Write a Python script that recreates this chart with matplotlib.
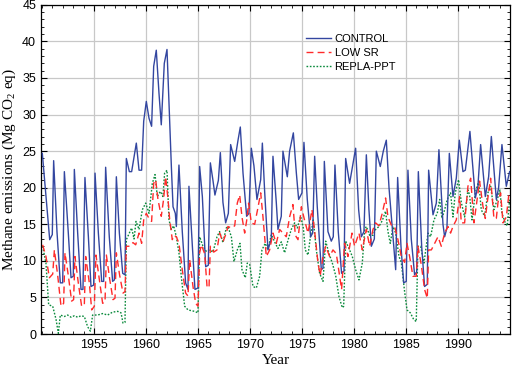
import matplotlib
matplotlib.use("Agg")
import matplotlib.pyplot as plt
from matplotlib.ticker import MultipleLocator

plt.rcParams['font.family'] = ['Liberation Sans', 'DejaVu Sans']
plt.rcParams['mathtext.default'] = 'regular'

# ---------------- data (year, Mg CO2 eq) ----------------
control_t = [1950.03, 1950.67, 1950.74, 1950.99, 1951.12, 1951.44, 1951.76, 1951.99, 1952.15, 1952.53,
             1952.79, 1953.01, 1953.11, 1953.43, 1953.75, 1953.94, 1954.13, 1954.46, 1954.71, 1954.97,
             1955.10, 1955.42, 1955.74, 1955.93, 1956.12, 1956.47, 1956.79, 1956.96, 1957.15, 1957.44,
             1957.76, 1957.98, 1958.11, 1958.40, 1958.62, 1959.07, 1959.33, 1959.58, 1959.78, 1960.03,
             1960.29, 1960.54, 1960.74, 1960.99, 1961.25, 1961.47, 1961.76, 1962.02, 1962.21, 1962.44,
             1962.60, 1962.82, 1962.92, 1963.17, 1963.49, 1963.81, 1964.04, 1964.13, 1964.46, 1964.71,
             1965.00, 1965.16, 1965.42, 1965.74, 1965.99, 1966.19, 1966.44, 1966.63, 1966.96, 1967.15,
             1967.40, 1967.66, 1967.92, 1968.14, 1968.53, 1968.85, 1969.07, 1969.33, 1969.58, 1969.68,
             1969.90, 1970.13, 1970.38, 1970.67, 1971.03, 1971.19, 1971.41, 1971.73, 1972.05, 1972.21,
             1972.53, 1972.69, 1973.01, 1973.17, 1973.59, 1973.81, 1974.17, 1974.46, 1974.68, 1975.00,
             1975.19, 1975.51, 1975.83, 1976.03, 1976.22, 1976.47, 1976.86, 1977.02, 1977.15, 1977.50,
             1977.82, 1978.01, 1978.17, 1978.49, 1978.81, 1979.04, 1979.20, 1979.58, 1980.16, 1980.45,
             1980.71, 1980.96, 1981.19, 1981.44, 1981.67, 1981.96, 1982.15, 1982.53, 1982.82, 1983.11,
             1983.37, 1983.59, 1984.01, 1984.20, 1984.52, 1984.78, 1985.03, 1985.19, 1985.51, 1985.83,
             1986.03, 1986.19, 1986.51, 1986.79, 1987.05, 1987.18, 1987.60, 1987.92, 1988.17, 1988.56,
             1988.72, 1988.94, 1989.17, 1989.52, 1989.84, 1990.13, 1990.48, 1990.71, 1991.15, 1991.67,
             1991.92, 1992.18, 1992.63, 1992.95, 1993.21, 1993.69, 1993.91, 1994.23, 1994.65, 1994.97]
control_v = [24.7, 14.2, 12.9, 13.6, 23.7, 14.0, 7.0, 7.0, 22.2, 13.8,
             7.7, 7.9, 22.5, 13.8, 6.1, 6.1, 21.4, 13.3, 6.5, 6.7,
             22.0, 13.8, 7.2, 7.2, 22.8, 13.3, 7.2, 7.4, 21.5, 13.8,
             8.3, 8.1, 24.0, 22.2, 22.2, 26.1, 22.4, 22.4, 29.1, 31.8,
             29.5, 28.4, 36.6, 38.8, 32.9, 28.6, 37.0, 38.9, 31.6, 22.9,
             17.4, 16.5, 14.7, 23.1, 14.0, 7.0, 6.1, 20.2, 12.0, 6.1,
             6.3, 22.9, 18.8, 9.2, 9.4, 23.4, 21.0, 19.0, 21.0, 24.8,
             18.0, 15.2, 16.5, 25.9, 23.6, 26.5, 28.3, 22.0, 17.9, 16.1,
             16.5, 25.4, 23.0, 18.4, 21.1, 26.1, 19.5, 11.5, 13.0, 24.3,
             18.0, 14.3, 16.1, 25.0, 21.5, 25.0, 27.5, 22.0, 18.4, 19.3,
             26.2, 18.4, 13.3, 13.8, 24.3, 17.4, 8.8, 9.0, 23.6, 14.0,
             12.7, 13.3, 23.1, 14.0, 8.3, 8.6, 24.0, 20.6, 25.4, 17.0,
             13.3, 14.0, 24.5, 17.0, 12.0, 13.0, 25.0, 22.9, 25.0, 26.5,
             20.0, 16.1, 8.8, 21.4, 12.0, 7.0, 7.2, 22.4, 13.0, 8.1,
             8.5, 22.2, 12.0, 6.5, 6.8, 22.4, 16.3, 17.9, 25.2, 15.0,
             13.3, 14.5, 24.7, 18.8, 21.3, 26.5, 22.2, 22.4, 27.7, 18.6,
             20.2, 25.9, 18.8, 21.5, 27.0, 18.4, 20.0, 25.9, 20.2, 22.2]

lowsr_t = [1950.06, 1950.38, 1950.71, 1951.03, 1951.19, 1951.51, 1951.83, 1952.08, 1952.21, 1952.53,
           1952.85, 1953.04, 1953.17, 1953.49, 1953.81, 1954.07, 1954.20, 1954.55, 1954.78, 1955.03,
           1955.19, 1955.51, 1955.83, 1956.06, 1956.19, 1956.51, 1956.83, 1957.02, 1957.15, 1957.47,
           1957.79, 1957.98, 1958.11, 1958.43, 1958.75, 1959.01, 1959.33, 1959.58, 1959.78, 1960.03,
           1960.29, 1960.54, 1960.74, 1960.93, 1961.15, 1961.47, 1961.70, 1961.89, 1962.12, 1962.28,
           1962.53, 1962.69, 1962.92, 1963.17, 1963.49, 1963.81, 1964.04, 1964.20, 1964.52, 1964.78,
           1965.00, 1965.16, 1965.32, 1965.64, 1965.87, 1966.06, 1966.19, 1966.51, 1966.83, 1967.08,
           1967.40, 1967.72, 1967.88, 1968.21, 1968.53, 1968.78, 1969.01, 1969.23, 1969.49, 1969.68,
           1969.87, 1970.13, 1970.45, 1970.77, 1971.03, 1971.25, 1971.57, 1971.89, 1972.21, 1972.53,
           1972.85, 1973.17, 1973.49, 1973.81, 1974.13, 1974.36, 1974.62, 1974.94, 1975.26, 1975.58,
           1975.96, 1976.22, 1976.54, 1976.76, 1977.02, 1977.28, 1977.66, 1977.98, 1978.30, 1978.62,
           1978.81, 1979.10, 1979.42, 1979.81, 1980.06, 1980.48, 1980.80, 1981.19, 1981.51, 1981.83,
           1982.08, 1982.40, 1982.72, 1983.04, 1983.27, 1983.59, 1983.91, 1984.23, 1984.55, 1984.87,
           1985.10, 1985.35, 1985.67, 1985.99, 1986.15, 1986.47, 1986.79, 1987.05, 1987.18, 1987.44,
           1987.76, 1988.08, 1988.40, 1988.72, 1989.04, 1989.29, 1989.52, 1989.84, 1990.16, 1990.32,
           1990.64, 1990.96, 1991.22, 1991.54, 1991.76, 1992.08, 1992.40, 1992.63, 1992.82, 1993.14,
           1993.46, 1993.69, 1993.85, 1994.10, 1994.33, 1994.65, 1994.87, 1994.97]
lowsr_v = [12.2, 10.6, 7.7, 8.2, 11.5, 8.0, 3.8, 4.2, 11.1, 8.0,
           4.5, 4.7, 10.6, 7.0, 3.8, 4.0, 10.6, 7.0, 3.3, 3.8,
           10.8, 7.5, 4.2, 4.4, 10.8, 7.5, 4.7, 4.9, 11.1, 8.0,
           5.6, 5.8, 12.0, 12.0, 12.5, 12.2, 13.8, 12.4, 15.6, 16.5,
           15.8, 15.4, 20.6, 21.1, 18.4, 16.1, 18.5, 21.5, 18.4, 15.6,
           12.9, 13.5, 13.3, 12.4, 8.8, 5.6, 5.2, 10.2, 6.5, 4.2,
           3.8, 11.1, 12.2, 11.0, 6.5, 6.3, 12.0, 11.2, 11.5, 13.8,
           12.6, 13.8, 14.7, 14.5, 14.8, 17.9, 19.0, 16.0, 13.8, 15.5,
           17.9, 15.2, 15.0, 17.3, 19.3, 16.0, 10.6, 11.5, 13.8, 12.4,
           14.3, 13.8, 13.3, 16.0, 17.7, 13.5, 12.9, 17.4, 15.5, 13.8,
           17.0, 14.0, 9.7, 8.0, 10.6, 12.0, 10.6, 11.5, 11.0, 7.9,
           6.1, 12.4, 10.6, 13.8, 12.0, 13.8, 11.5, 14.3, 12.0, 14.3,
           15.2, 14.8, 16.5, 18.6, 16.0, 14.9, 14.7, 12.9, 10.6, 9.8,
           12.4, 10.6, 7.9, 7.9, 12.0, 9.5, 6.1, 4.9, 11.5, 11.5,
           12.4, 13.3, 12.0, 13.8, 14.7, 13.8, 14.7, 15.6, 18.8, 15.2,
           15.2, 20.2, 21.3, 15.2, 17.5, 20.9, 17.5, 15.8, 18.0, 21.3,
           15.8, 15.8, 18.0, 19.3, 15.2, 16.0, 18.8, 19.5]

repla_t = [1950.06, 1950.38, 1950.64, 1951.03, 1951.35, 1951.57, 1951.76, 1952.15, 1952.47, 1952.79,
           1953.11, 1953.43, 1953.75, 1954.07, 1954.39, 1954.65, 1954.87, 1955.35, 1955.83, 1956.31,
           1956.79, 1957.28, 1957.60, 1957.79, 1957.98, 1958.11, 1958.40, 1958.62, 1958.85, 1959.04,
           1959.33, 1959.65, 1959.97, 1960.29, 1960.61, 1960.87, 1961.09, 1961.38, 1961.63, 1961.79,
           1962.02, 1962.21, 1962.44, 1962.66, 1962.92, 1963.17, 1963.43, 1963.72, 1964.04, 1964.36,
           1964.68, 1965.00, 1965.16, 1965.48, 1965.80, 1966.12, 1966.44, 1966.83, 1967.08, 1967.40,
           1967.72, 1967.88, 1968.21, 1968.46, 1968.78, 1969.04, 1969.23, 1969.55, 1969.74, 1969.97,
           1970.29, 1970.61, 1970.93, 1971.15, 1971.47, 1971.73, 1972.05, 1972.37, 1972.69, 1973.01,
           1973.33, 1973.65, 1973.97, 1974.29, 1974.55, 1974.87, 1975.13, 1975.32, 1975.58, 1975.83,
           1976.09, 1976.38, 1976.70, 1977.02, 1977.28, 1977.60, 1977.92, 1978.24, 1978.56, 1978.88,
           1979.01, 1979.20, 1979.52, 1979.84, 1980.16, 1980.48, 1980.80, 1981.03, 1981.19, 1981.51,
           1981.83, 1982.08, 1982.40, 1982.72, 1983.04, 1983.27, 1983.49, 1983.75, 1984.01, 1984.33,
           1984.55, 1984.87, 1985.10, 1985.42, 1985.74, 1985.99, 1986.15, 1986.41, 1986.73, 1987.12,
           1987.37, 1987.69, 1988.01, 1988.24, 1988.46, 1988.72, 1988.97, 1989.29, 1989.52, 1989.74,
           1990.06, 1990.32, 1990.64, 1990.96, 1991.12, 1991.35, 1991.67, 1991.99, 1992.24, 1992.56,
           1992.88, 1993.14, 1993.46, 1993.78, 1994.04, 1994.23, 1994.55, 1994.74, 1994.97]
repla_v = [12.0, 9.7, 4.0, 3.8, 2.0, 0.1, 2.6, 2.4, 2.6, 2.3,
           2.5, 2.3, 2.5, 2.4, 1.0, 0.4, 2.6, 2.6, 2.8, 2.6,
           3.0, 3.1, 2.9, 1.5, 1.6, 12.9, 13.8, 14.5, 13.0, 15.4,
           14.3, 17.0, 17.9, 16.5, 20.6, 21.8, 18.8, 19.5, 18.8, 22.0,
           22.4, 15.6, 14.3, 14.8, 13.3, 11.1, 7.4, 3.8, 3.3, 3.2,
           3.1, 2.9, 13.3, 12.0, 11.3, 11.5, 11.2, 13.3, 14.0, 12.5,
           14.5, 14.7, 13.3, 9.9, 11.5, 12.4, 8.8, 7.7, 9.7, 9.5,
           6.5, 6.3, 7.9, 11.5, 12.4, 11.5, 13.6, 12.6, 11.7, 12.6,
           11.1, 12.8, 14.3, 15.2, 14.5, 16.1, 14.5, 11.5, 10.8, 13.5,
           15.6, 11.5, 8.3, 7.2, 12.7, 11.0, 9.7, 8.0, 5.1, 3.6,
           3.8, 12.7, 11.7, 10.6, 8.8, 7.4, 9.7, 14.3, 14.7, 13.5,
           13.5, 14.3, 14.7, 15.5, 16.8, 14.0, 12.4, 14.7, 13.8, 10.6,
           9.8, 5.8, 3.3, 2.9, 2.0, 1.7, 12.0, 12.0, 9.7, 13.8,
           13.3, 15.6, 16.5, 18.4, 15.8, 17.0, 18.4, 19.3, 16.0, 19.3,
           21.1, 18.0, 16.0, 19.7, 19.0, 15.6, 19.3, 20.9, 17.0, 16.1,
           19.3, 20.2, 17.0, 18.4, 19.7, 16.5, 15.2, 14.8, 18.4]

labels = ['CONTROL', 'LOW SR', 'REPLA-PPT']
x_ticks = [1955, 1960, 1965, 1970, 1975, 1980, 1985, 1990]
y_ticks = [0, 5, 10, 15, 20, 25, 30, 35, 40, 45]

# ---------------- plot ----------------
fig = plt.figure(figsize=(5.12, 3.72), dpi=100)
ax = fig.add_axes([0.080, 0.102, 0.916, 0.885])

ax.plot(control_t, control_v, color='#3346a0', lw=1.0, label=labels[0], zorder=3)
ax.plot(lowsr_t, lowsr_v, color='#ff2a2a', lw=1.0, ls=(0, (5, 3)), label=labels[1], zorder=4)
ax.plot(repla_t, repla_v, color='#0a8a3c', lw=1.0, ls=(0, (1.2, 1.2)), label=labels[2], zorder=2)

ax.set_xlim(1949.9, 1995.0)
ax.set_ylim(0, 45)
ax.set_xticks(x_ticks)
ax.set_yticks(y_ticks)
ax.xaxis.set_minor_locator(MultipleLocator(1))
ax.yaxis.set_minor_locator(MultipleLocator(1))
ax.tick_params(which='both', direction='in', top=True, right=True, labelsize=9, colors='black')
ax.tick_params(which='major', length=4, width=0.8)
ax.tick_params(which='minor', length=2.5, width=0.6)
ax.grid(True, which='major', color='#c8c8c8', lw=0.9, zorder=0)
ax.set_axisbelow(True)
for s in ax.spines.values():
    s.set_linewidth(0.9)
    s.set_color('black')

ax.set_xlabel('Year', family=['Liberation Serif'], fontsize=11, labelpad=2)
ax.set_ylabel('Methane emissions (Mg CO$_2$ eq)', family=['Liberation Serif'], fontsize=11, labelpad=3)

leg = ax.legend(loc='upper left', bbox_to_anchor=(0.555, 0.925), frameon=False, fontsize=8,
                handlelength=2.3, handletextpad=0.3, labelspacing=0.35, borderaxespad=0)

fig.savefig('out.png', dpi=100)
